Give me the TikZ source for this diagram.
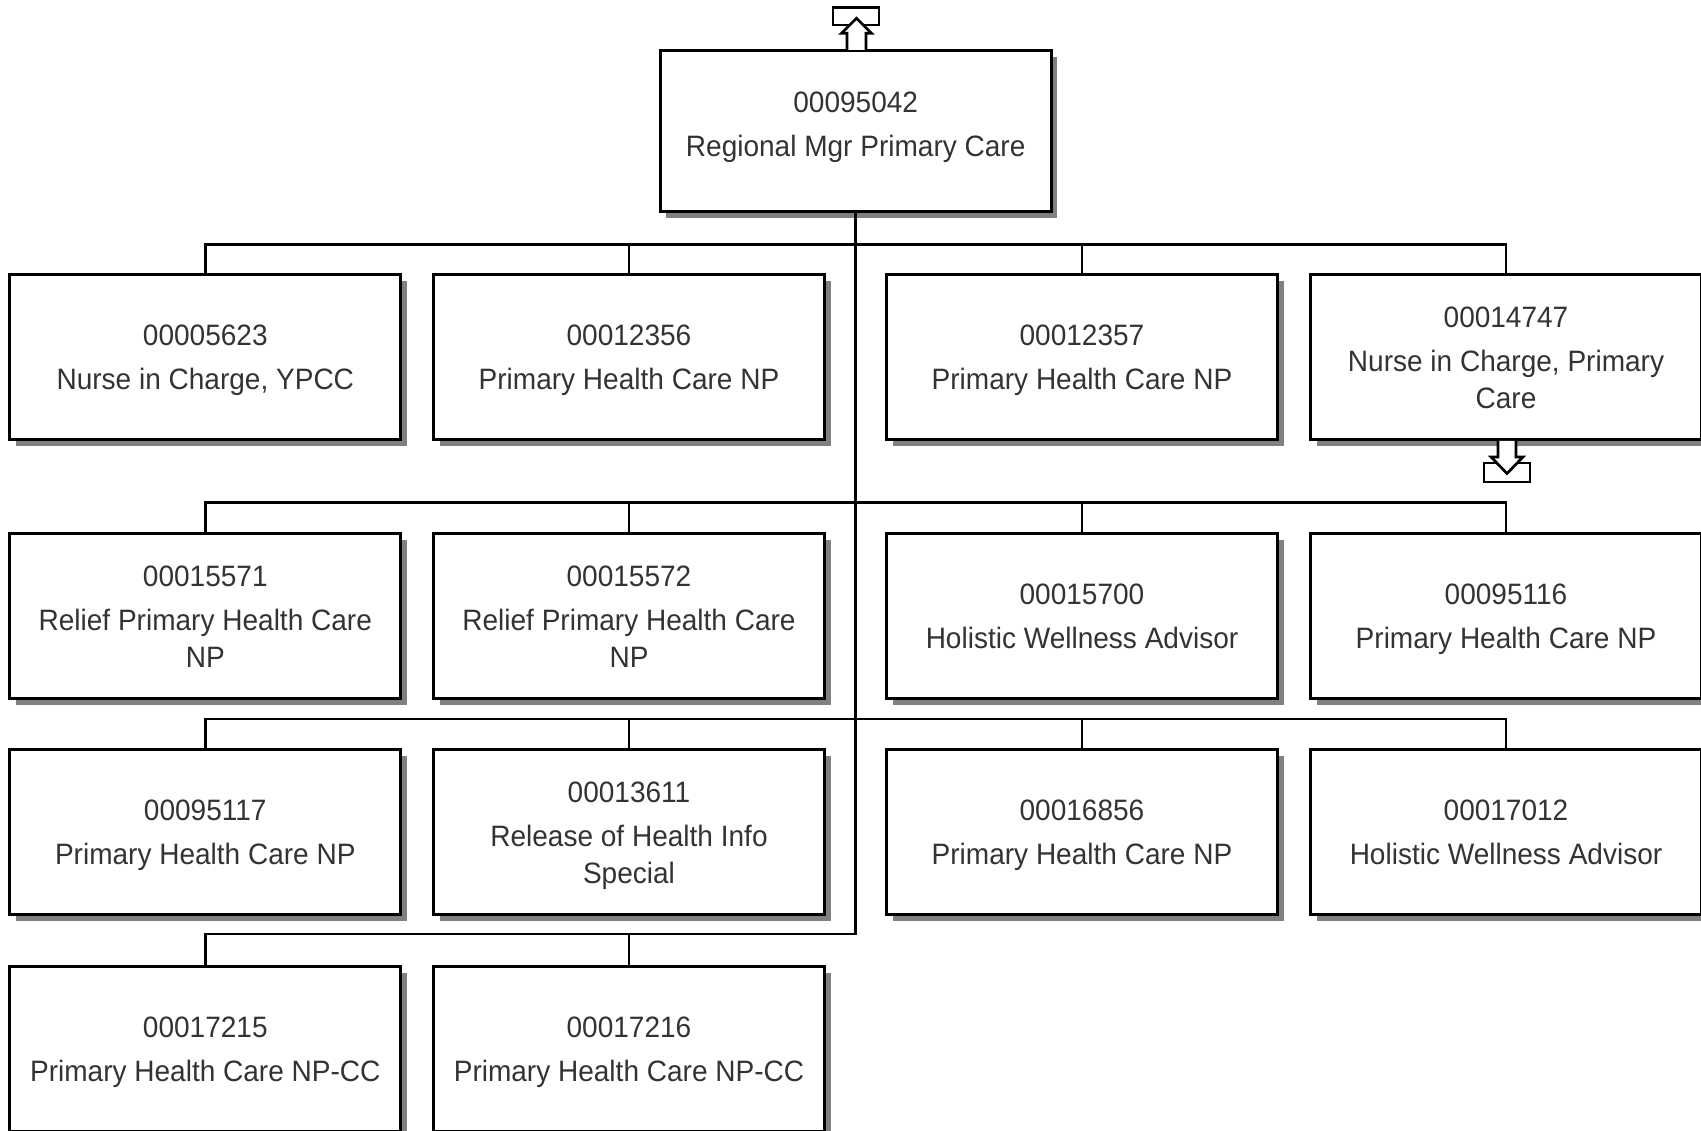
\documentclass[tikz,border=0pt]{standalone}
\usepackage{fontspec}
\setmainfont[FakeStretch=0.95]{Liberation Sans}
\usetikzlibrary{shadows}
\newcommand{\sm}[1]{\smash{#1}}
\newcommand{\capstrut}{\rule{0pt}{21.1pt}}
\begin{document}
\begin{tikzpicture}[x=1pt,y=-1pt,
  posbox/.style={draw=black, line width=3pt, fill=white,
    minimum width=391pt, minimum height=165pt, inner sep=0pt,
    align=center, font=\fontsize{29.5}{37}\selectfont, text=black!80,
    drop shadow={opacity=1, fill=black!50, shadow xshift=6pt, shadow yshift=-6pt}},
  link/.style={line width=2.7pt, line join=miter},
  iconframe/.style={draw=black, line width=2.8pt, fill=white},
  iconarrow/.style={draw=black, line width=2.7pt, fill=white, line join=miter}]
\useasboundingbox (0,0) rectangle (1701,1131);

% bus levels
\coordinate (bus1) at (0,244.5);
\coordinate (bus2) at (0,502.7);
\coordinate (bus3) at (0,719);
\coordinate (bus4) at (0,934);

% top position
\node[posbox, minimum height=161pt] (top) at (855.7,131.5)
  {\capstrut\sm{00095042}\\[7pt]\sm{Regional Mgr Primary Care}\rule[-16pt]{0pt}{16pt}};

% row 1
\node[posbox] (b11) at (205.3,357.3) {\capstrut\sm{00005623}\\[7pt]\sm{Nurse in Charge, YPCC}};
\node[posbox] (b12) at (629,357.3) {\capstrut\sm{00012356}\\[7pt]\sm{Primary Health Care NP}};
\node[posbox] (b13) at (1082,357.3) {\capstrut\sm{00012357}\\[7pt]\sm{Primary Health Care NP}};
\node[posbox] (b14) at (1506,357.3) {\capstrut\sm{00014747}\\[7pt]\sm{Nurse in Charge, Primary}\\\sm{Care}};

% row 2
\node[posbox] (b21) at (205.3,616) {\capstrut\sm{00015571}\\[7pt]\sm{Relief Primary Health Care}\\\sm{NP}};
\node[posbox] (b22) at (629,616) {\capstrut\sm{00015572}\\[7pt]\sm{Relief Primary Health Care}\\\sm{NP}};
\node[posbox] (b23) at (1082,616) {\capstrut\sm{00015700}\\[7pt]\sm{Holistic Wellness Advisor}};
\node[posbox] (b24) at (1506,616) {\capstrut\sm{00095116}\\[7pt]\sm{Primary Health Care NP}};

% row 3
\node[posbox] (b31) at (205.3,832) {\capstrut\sm{00095117}\\[7pt]\sm{Primary Health Care NP}};
\node[posbox] (b32) at (629,832) {\capstrut\sm{00013611}\\[7pt]\sm{Release of Health Info}\\\sm{Special}};
\node[posbox] (b33) at (1082,832) {\capstrut\sm{00016856}\\[7pt]\sm{Primary Health Care NP}};
\node[posbox] (b34) at (1506,832) {\capstrut\sm{00017012}\\[7pt]\sm{Holistic Wellness Advisor}};

% row 4
\node[posbox] (b41) at (205.3,1049) {\capstrut\sm{00017215}\\[7pt]\sm{Primary Health Care NP-CC}};
\node[posbox] (b42) at (629,1049) {\capstrut\sm{00017216}\\[7pt]\sm{Primary Health Care NP-CC}};

% connectors
\draw[link] (top.south) -- (top.south |- bus4) -- (b41.north |- bus4) -- (b41.north);
\draw[link] (b42.north |- bus4) -- (b42.north);

\draw[link] (b11.north) -- (b11.north |- bus1) -- (b14.north |- bus1) -- (b14.north);
\draw[link] (b12.north |- bus1) -- (b12.north);
\draw[link] (b13.north |- bus1) -- (b13.north);

\draw[link] (b21.north) -- (b21.north |- bus2) -- (b24.north |- bus2) -- (b24.north);
\draw[link] (b22.north |- bus2) -- (b22.north);
\draw[link] (b23.north |- bus2) -- (b23.north);

\draw[link] (b31.north) -- (b31.north |- bus3) -- (b34.north |- bus3) -- (b34.north);
\draw[link] (b32.north |- bus3) -- (b32.north);
\draw[link] (b33.north |- bus3) -- (b33.north);

% up icon above top box
\draw[iconframe] (833,7.5) rectangle (879,25);
\draw[iconarrow] (847,50) -- (847,33.3) -- (841.5,33.3) -- (856.5,18.3)
  -- (871.5,33.3) -- (866,33.3) -- (866,50);

% down icon below b14
\draw[iconframe] (1484,463) rectangle (1530,482);
\draw[iconarrow] (1498,441) -- (1498,457) -- (1491,457) -- (1507,473.5)
  -- (1523,457) -- (1516,457) -- (1516,441);
\end{tikzpicture}
\end{document}
